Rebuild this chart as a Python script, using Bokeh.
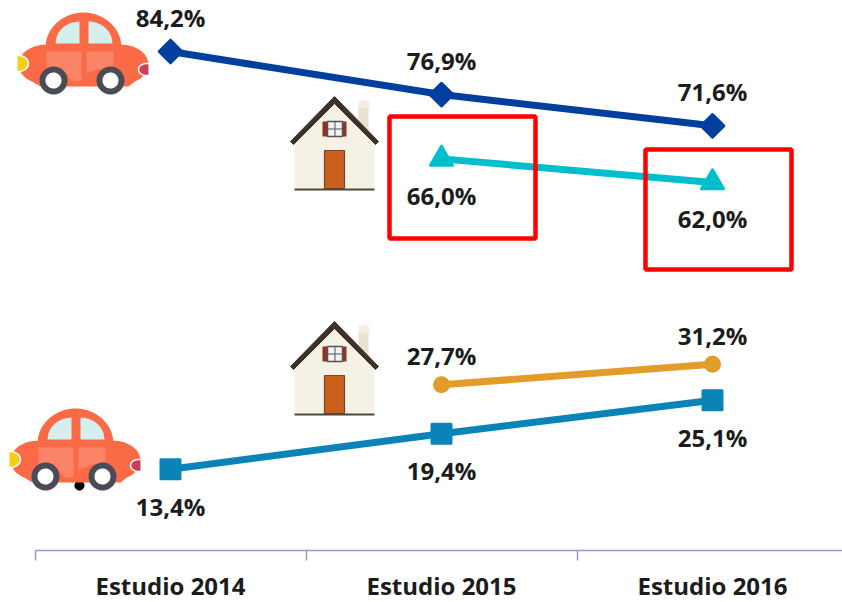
import numpy as np
from bokeh.plotting import figure
from bokeh.embed import file_html
from bokeh.resources import INLINE
from bokeh.core.properties import value
from bokeh.models import LinearAxis, FixedTicker, BoxAnnotation

categories = ["Estudio 2014", "Estudio 2015", "Estudio 2016"]
coche_privado = [84.2, 76.9, 71.6]
vivienda_alta = [None, 66.0, 62.0]
vivienda_baja = [None, 27.7, 31.2]
coche_bajo = [13.4, 19.4, 25.1]
idx = [0, 1, 2]

FONT = "Open Sans"
TXT = "#1c1c1c"

# reference pixels -> data, for the pictures and boxes that sit on the chart
def X(px): return (np.asarray(px, float) - 170) / 271.0
def Y(py): return 84.2 - (np.asarray(py, float) - 51) / 5.9

p = figure(width=842, height=602, output_backend="svg", toolbar_location=None,
           x_range=(float(X(0)), float(X(842))), y_range=(float(Y(602)), float(Y(0))),
           x_axis_location=None, y_axis_location=None,
           min_border=0, min_border_bottom=0, min_border_left=0, min_border_right=0, min_border_top=0)
p.outline_line_color = None
p.grid.visible = False
p.background_fill_color = "white"

ax = LinearAxis(ticker=FixedTicker(ticks=idx, minor_ticks=[-0.5, 0.5, 1.5, 2.5]),
                major_label_overrides={i: c for i, c in zip(idx, categories)},
                bounds=(-0.5, 2.5), fixed_location=float(Y(550)))
ax.axis_line_color = "#8E9DCB"
ax.axis_line_width = 1.5
ax.major_tick_line_color = None
ax.major_tick_in = 0
ax.major_tick_out = 0
ax.minor_tick_line_color = "#8E9DCB"
ax.minor_tick_line_width = 1.5
ax.minor_tick_in = 0
ax.minor_tick_out = 10
ax.major_label_text_font = FONT
ax.major_label_text_font_style = "bold"
ax.major_label_text_font_size = "24px"
ax.major_label_text_color = TXT
ax.major_label_standoff = 8
p.add_layout(ax, "below")


def poly(pts, ox=0, oy=0, **kw):
    a = np.array(pts, float)
    p.patch(X(a[:, 0] + ox), Y(a[:, 1] + oy), **kw)


def circ(cx, cy, r, color):
    t = np.linspace(0, 2 * np.pi, 40)
    p.patch(X(cx + r * np.cos(t)), Y(cy + r * np.sin(t)), fill_color=color, line_color=None)


def arc(cx, cy, rx, ry, a0, a1, n=24):
    t = np.radians(np.linspace(a0, a1, n))
    return list(zip(cx + rx * np.cos(t), cy + ry * np.sin(t)))


def car(ox, oy):
    body = (arc(83, 47, 38, 35, 180, 360)
            + arc(120, 64, 28, 20, -90, 60)
            + [(128, 86), (40, 86)]
            + arc(46, 64, 28, 20, 120, 270))
    poly(body, ox, oy, fill_color="#FB6A47", line_color=None)
    poly([(46, 51), (81, 51), (81, 80), (72, 81), (62, 68), (46, 67)], ox, oy, fill_color="#FC8468", line_color=None)
    poly([(86, 51), (113, 51), (113, 66), (100, 68), (86, 73)], ox, oy, fill_color="#FC8468", line_color=None)
    poly([(55, 43), (79, 43), (79, 21)] + arc(79, 43, 24, 22, 250, 195, 8), ox, oy, fill_color="#D5F0EC", line_color=None)
    poly([(88, 21), (88, 43), (112, 43)] + arc(88, 43, 24, 22, -15, -80, 8), ox, oy, fill_color="#D5F0EC", line_color=None)
    poly(arc(18, 63, 10, 8, -100, 100, 16), ox, oy, fill_color="#F6CE16", line_color="white", line_width=1.5)
    poly(arc(146, 69, 8, 6, 70, 290, 16), ox, oy, fill_color="#CC3F55", line_color="white", line_width=1.5)
    for wx in (53, 110):
        circ(wx + ox, 80 + oy, 14, "#4A4C55")
        circ(wx + ox, 80 + oy, 8, "white")


def house(oy):
    poly([(294, 140), (334, 100), (374, 140), (374, 188), (294, 188)], 0, oy, fill_color="#F5F1E4", line_color=None)
    poly([(358, 107), (368, 107), (368, 135), (358, 126)], 0, oy, fill_color="#E9E2D2", line_color=None)
    poly([(358, 101), (363, 99), (369, 102), (369, 108), (358, 108)], 0, oy, fill_color="#F3EEE0", line_color=None)
    poly([(290, 141), (334, 96), (378, 141), (375, 144), (334, 103), (293, 144)], 0, oy,
         fill_color="#3D3229", line_color="#3D3229", line_width=1, line_join="round")
    poly([(322, 121), (327, 121), (327, 136), (322, 136)], 0, oy, fill_color="#8F3326", line_color=None)
    poly([(342, 121), (346, 121), (346, 136), (342, 136)], 0, oy, fill_color="#8F3326", line_color=None)
    poly([(327, 121), (342, 121), (342, 136), (327, 136)], 0, oy, fill_color="#F2F2F2", line_color="#55525A", line_width=1.5)
    poly([(334, 121), (335, 121), (335, 136), (334, 136)], 0, oy, fill_color="#55525A", line_color=None)
    poly([(327, 128), (342, 128), (342, 129), (327, 129)], 0, oy, fill_color="#55525A", line_color=None)
    poly([(324, 150), (344, 150), (344, 188), (324, 188)], 0, oy, fill_color="#C9601C", line_color="#6B4A33", line_width=1.2)
    poly([(294, 188), (374, 188), (374, 190), (294, 190)], 0, oy, fill_color="#4E4438", line_color=None)


def series(vals, color, marker, size, offset, **mk):
    xs = [i for i, v in zip(idx, vals) if v is not None]
    ys = [v for v in vals if v is not None]
    p.line(xs, ys, line_color=color, line_width=7)
    p.scatter(xs, ys, marker=marker, size=size, fill_color=color, line_color=color,
              line_width=3, line_join="round", **mk)
    p.text(xs, ys, text=[f"{v:.1f}%".replace(".", ",") for v in ys],
           text_font=value(FONT), text_font_style="bold", text_font_size="24px",
           text_color=TXT, text_align="center", text_baseline="middle", y_offset=offset)


series(coche_privado, "#003F9E", "square", 16, -34.5, angle=np.pi / 4)
series(vivienda_alta, "#00BECC", "triangle", 22, 36.5)
series(vivienda_baja, "#E39C28", "circle", 14, -29)
series(coche_bajo, "#0A84B8", "square", 19, 37)

car(0, 0)
circ(79, 485, 5, "black")
car(-8, 396)
house(0)
house(225)

for (l, r, t, b) in [(389, 535, 116, 238), (645, 791, 149, 269)]:
    p.add_layout(BoxAnnotation(left=float(X(l)), right=float(X(r)), top=float(Y(t)), bottom=float(Y(b)),
                               fill_color=None, fill_alpha=0, line_color="#FF0000", line_width=4.5, line_alpha=1))

open("out.html", "w").write(file_html(p, INLINE))
